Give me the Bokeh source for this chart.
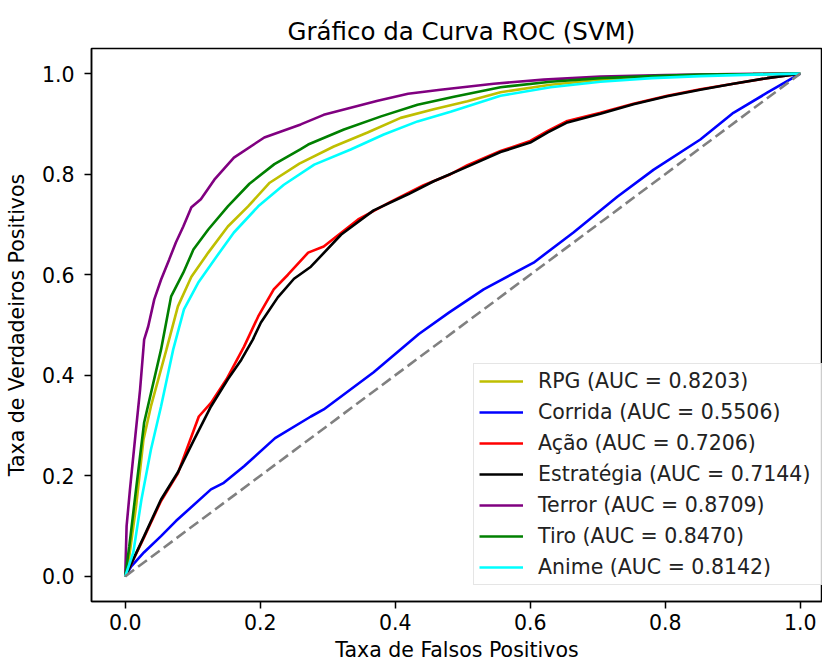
from bokeh.plotting import figure
from bokeh.embed import file_html
from bokeh.resources import INLINE
from bokeh.models import FixedTicker, PrintfTickFormatter, Range1d

# ---- data ----
rpg_fpr = [0.0, 0.006, 0.016, 0.027, 0.038, 0.061, 0.078, 0.098, 0.123, 0.152, 0.182, 0.214, 0.258, 0.309, 0.359, 0.408, 0.457, 0.507, 0.556, 0.63, 0.704, 0.78, 0.852, 0.93, 1.0]
rpg_tpr = [0.0, 0.040, 0.139, 0.272, 0.338, 0.451, 0.537, 0.596, 0.644, 0.696, 0.736, 0.783, 0.821, 0.855, 0.883, 0.912, 0.929, 0.945, 0.963, 0.978, 0.988, 0.994, 0.997, 0.999, 1.0]

corrida_fpr = [0.0, 0.009, 0.028, 0.053, 0.075, 0.127, 0.146, 0.176, 0.222, 0.275, 0.294, 0.368, 0.435, 0.480, 0.531, 0.605, 0.664, 0.729, 0.783, 0.852, 0.901, 0.951, 1.0]
corrida_tpr = [0.0, 0.020, 0.048, 0.080, 0.110, 0.173, 0.186, 0.219, 0.275, 0.318, 0.332, 0.406, 0.482, 0.525, 0.571, 0.624, 0.684, 0.755, 0.809, 0.869, 0.922, 0.962, 1.0]

acao_fpr = [0.0, 0.028, 0.053, 0.078, 0.109, 0.127, 0.150, 0.176, 0.197, 0.220, 0.241, 0.271, 0.294, 0.345, 0.393, 0.442, 0.482, 0.507, 0.556, 0.600, 0.626, 0.655, 0.704, 0.753, 0.803, 0.852, 0.901, 0.951, 1.0]
acao_tpr = [0.0, 0.078, 0.150, 0.205, 0.318, 0.345, 0.392, 0.457, 0.517, 0.571, 0.600, 0.644, 0.656, 0.710, 0.745, 0.778, 0.800, 0.818, 0.846, 0.866, 0.886, 0.906, 0.922, 0.940, 0.956, 0.969, 0.980, 0.991, 1.0]

estrategia_fpr = [0.0, 0.028, 0.053, 0.078, 0.102, 0.127, 0.152, 0.172, 0.189, 0.201, 0.226, 0.250, 0.275, 0.320, 0.368, 0.419, 0.457, 0.507, 0.556, 0.600, 0.626, 0.655, 0.704, 0.753, 0.803, 0.852, 0.901, 0.951, 1.0]
estrategia_tpr = [0.0, 0.080, 0.153, 0.207, 0.272, 0.338, 0.392, 0.431, 0.471, 0.505, 0.555, 0.592, 0.616, 0.680, 0.728, 0.760, 0.786, 0.815, 0.844, 0.863, 0.883, 0.903, 0.920, 0.939, 0.955, 0.968, 0.980, 0.991, 1.0]

terror_fpr = [0.0, 0.002, 0.007, 0.015, 0.022, 0.028, 0.034, 0.043, 0.053, 0.065, 0.075, 0.086, 0.098, 0.112, 0.132, 0.161, 0.206, 0.260, 0.294, 0.334, 0.374, 0.419, 0.467, 0.546, 0.62, 0.704, 0.80, 0.90, 1.0]
terror_tpr = [0.0, 0.100, 0.173, 0.280, 0.372, 0.471, 0.497, 0.551, 0.590, 0.630, 0.664, 0.696, 0.734, 0.750, 0.789, 0.833, 0.873, 0.899, 0.918, 0.932, 0.946, 0.960, 0.968, 0.980, 0.988, 0.994, 0.997, 0.999, 1.0]

tiro_fpr = [0.0, 0.006, 0.016, 0.028, 0.053, 0.068, 0.086, 0.101, 0.123, 0.152, 0.184, 0.221, 0.260, 0.271, 0.324, 0.379, 0.433, 0.487, 0.556, 0.63, 0.704, 0.78, 0.852, 0.93, 1.0]
tiro_tpr = [0.0, 0.060, 0.173, 0.306, 0.451, 0.557, 0.604, 0.650, 0.690, 0.736, 0.781, 0.820, 0.850, 0.859, 0.889, 0.915, 0.938, 0.954, 0.973, 0.984, 0.991, 0.995, 0.998, 0.999, 1.0]

anime_fpr = [0.0, 0.012, 0.024, 0.038, 0.053, 0.071, 0.087, 0.108, 0.132, 0.161, 0.197, 0.235, 0.280, 0.334, 0.383, 0.433, 0.482, 0.556, 0.63, 0.704, 0.78, 0.852, 0.93, 1.0]
anime_tpr = [0.0, 0.048, 0.153, 0.252, 0.338, 0.451, 0.531, 0.584, 0.630, 0.684, 0.736, 0.779, 0.819, 0.849, 0.879, 0.905, 0.924, 0.956, 0.973, 0.984, 0.991, 0.995, 0.998, 1.0]

diag = [0.0, 1.0]

series = [
    ("RPG", 0.8203, rpg_fpr, rpg_tpr, "#bfbf00"),
    ("Corrida", 0.5506, corrida_fpr, corrida_tpr, "#0000ff"),
    ("Ação", 0.7206, acao_fpr, acao_tpr, "#ff0000"),
    ("Estratégia", 0.7144, estrategia_fpr, estrategia_tpr, "#000000"),
    ("Terror", 0.8709, terror_fpr, terror_tpr, "#800080"),
    ("Tiro", 0.8470, tiro_fpr, tiro_tpr, "#008000"),
    ("Anime", 0.8142, anime_fpr, anime_tpr, "#00ffff"),
]

ticks = [0.0, 0.2, 0.4, 0.6, 0.8, 1.0]

FONT = "DejaVu Sans"

p = figure(width=822, height=664, output_backend="svg", toolbar_location=None,
           x_range=Range1d(-0.05, 1.033), y_range=Range1d(-0.05, 1.05),
           min_border_left=91, min_border_right=0, min_border_top=48, min_border_bottom=61,
           title="Gráfico da Curva ROC (SVM)")

p.background_fill_color = "white"
p.border_fill_color = "white"
p.outline_line_color = "black"
p.outline_line_width = 1.5
p.grid.visible = False

p.title.align = "left"
p.title.offset = 196
p.title.text_font = FONT
p.title.text_font_size = "24.5px"
p.title.text_font_style = "normal"
p.title.text_color = "black"
p.title.standoff = 6

for ax in (p.xaxis[0], p.yaxis[0]):
    ax.ticker = FixedTicker(ticks=ticks)
    ax.formatter = PrintfTickFormatter(format="%.1f")
    ax.minor_tick_line_color = None
    ax.major_tick_in = 0
    ax.major_tick_out = 7
    ax.major_tick_line_width = 1.5
    ax.axis_line_width = 1.5
    ax.major_label_text_font = FONT
    ax.major_label_text_font_size = "20.5px"
    ax.major_label_text_color = "black"
    ax.axis_label_text_font = FONT
    ax.axis_label_text_font_size = "20.5px"
    ax.axis_label_text_font_style = "normal"
    ax.axis_label_text_color = "black"
    ax.axis_line_color = "black"
    ax.major_tick_line_color = "black"

p.xaxis.major_label_standoff = 5
p.yaxis.major_label_standoff = 10
p.xaxis.axis_label = "Taxa de Falsos Positivos"
p.yaxis.axis_label = "Taxa de Verdadeiros Positivos"
p.xaxis.axis_label_standoff = 5
p.yaxis.axis_label_standoff = 10

for name, auc, fx, fy, color in series:
    p.line(fx, fy, line_color=color, line_width=2.6,
           legend_label=f"{name} (AUC = {auc:.4f})")

p.line(diag, diag, line_color="#808080", line_width=2.6, line_dash="11 5")

lg = p.legend[0]
lg.location = (382, 16)
lg.label_text_font = FONT
lg.label_text_font_size = "20.5px"
lg.label_text_color = "#222222"
lg.glyph_width = 44
lg.glyph_height = 24
lg.label_height = 24
lg.label_width = 290
lg.spacing = 7
lg.padding = 5
lg.margin = 0
lg.label_standoff = 15
lg.border_line_color = "#cccccc"
lg.border_line_width = 1
lg.background_fill_color = "white"
lg.background_fill_alpha = 0.8

open("out.html", "w").write(file_html(p, INLINE))
